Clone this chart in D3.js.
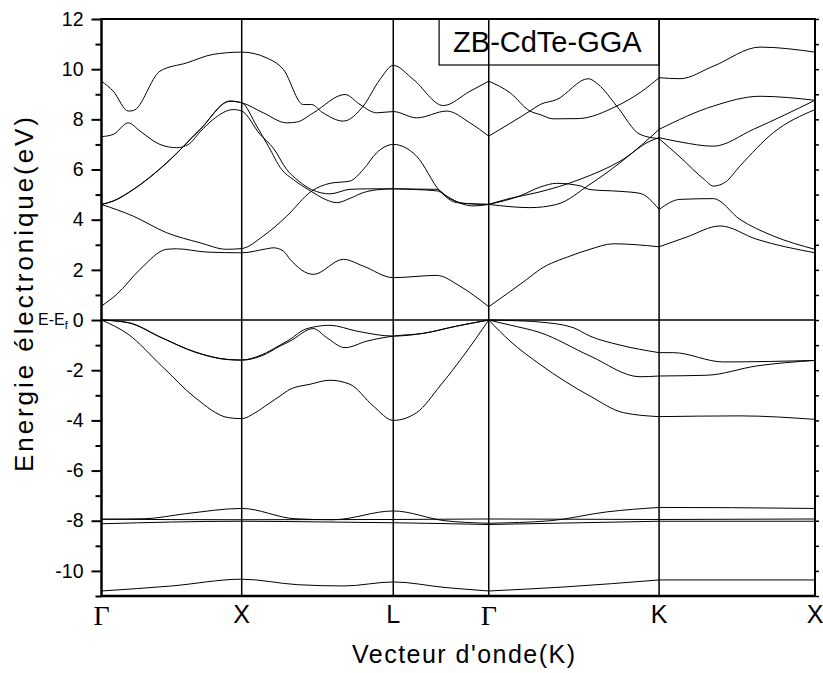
<!DOCTYPE html>
<html>
<head>
<meta charset="utf-8">
<script src="https://cdn.jsdelivr.net/npm/d3@7"></script>
<style>
  body { margin: 0; background: #fff; }
  text { font-family: Arial, "Liberation Sans", sans-serif; fill: #000; }
</style>
</head>
<body>
<div id="container"></div>
<script>
/* CONSTANTS AND GLOBALS */
const margin = { top: 19, right: 8, bottom: 77, left: 101.5 };
const width = 823 - margin.left - margin.right;
const height = 673 - margin.top - margin.bottom;

/* DATA */
// high symmetry points along the k path (in units of the Γ-X length)
const kLabels = ["Γ", "X", "L", "Γ", "K", "X"];
const kPoints = [0, 1, 2.081, 2.762, 3.977, 5.089];
const yMajor = [-10, -8, -6, -4, -2, 0, 2, 4, 6, 8, 10, 12];
const yMinor = [-11, -9, -7, -5, -3, -1, 1, 3, 5, 7, 9, 11];

// bands, [k, E - Ef (eV)]
const bandS = [[0,-10.8],[0.5,-10.6],[1,-10.33],[1.4,-10.55],[1.73,-10.6],[2.081,-10.44],[2.45,-10.66],[2.762,-10.8],[3.3,-10.64],[3.977,-10.36],[5.089,-10.36]];

const bandD1 = [[0,-8.12],[1,-8.02],[1.6,-8.05],[2.081,-8.08],[2.762,-8.15],[3.977,-8.02],[5.089,-8.02]];
const bandD2 = [[0,-7.94],[1,-7.96],[2.081,-7.95],[2.762,-7.93],[3.977,-7.95],[5.089,-7.93]];
const bandD3 = [[0,-7.94],[0.31,-7.92],[0.6,-7.72],[1,-7.51],[1.38,-7.92],[1.65,-7.96],[2.081,-7.61],[2.45,-8.0],[2.762,-8.1],[3.2,-8.0],[3.6,-7.65],[3.977,-7.47],[4.5,-7.48],[5.089,-7.51]];

const bandV1 = [[0,0],[0.191,-0.10],[0.429,-0.70],[0.667,-1.27],[0.904,-1.57],[1,-1.59],[1.145,-1.38],[1.273,-1.0],[1.345,-0.77],[1.439,-0.40],[1.511,-0.28],[1.630,-0.21],[1.820,-0.44],[2.081,-0.64],[2.295,-0.53],[2.534,-0.24],[2.762,0],[2.914,-0.02],[3.128,-0.08],[3.363,-0.30],[3.484,-0.64],[3.70,-1.0],[3.977,-1.30],[4.078,-1.30],[4.435,-1.67],[5.089,-1.61]];
const bandV2 = [[0,0],[0.191,-0.11],[0.429,-0.71],[0.667,-1.28],[0.904,-1.58],[1,-1.60],[1.145,-1.42],[1.273,-1.04],[1.345,-0.84],[1.511,-0.34],[1.606,-0.70],[1.737,-1.10],[1.893,-0.84],[2.081,-0.64],[2.295,-0.53],[2.534,-0.24],[2.762,0],[2.914,-0.2],[3.128,-0.50],[3.484,-1.43],[3.841,-2.26],[3.977,-2.23],[4.317,-2.20],[4.673,-1.83],[5.089,-1.61]];
const bandV3 = [[0,0],[0.191,-0.57],[0.429,-1.83],[0.667,-3.09],[0.904,-3.89],[1,-3.93],[1.095,-3.7],[1.188,-3.35],[1.273,-3.03],[1.345,-2.76],[1.487,-2.56],[1.630,-2.40],[1.772,-2.56],[1.939,-3.43],[2.081,-4.0],[2.248,-3.69],[2.414,-2.63],[2.581,-1.43],[2.762,0],[2.914,-0.84],[3.128,-1.77],[3.484,-3.03],[3.722,-3.69],[3.977,-3.85],[4.554,-3.82],[5.089,-3.96]];

const bandC1 = [[0,0.56],[0.108,1.02],[0.275,2.02],[0.465,2.82],[0.536,2.84],[0.750,2.71],[1,2.68],[1.178,2.84],[1.226,2.88],[1.297,2.75],[1.345,2.42],[1.511,1.82],[1.725,2.42],[1.867,2.15],[2.081,1.69],[2.391,1.78],[2.557,1.35],[2.762,0.53],[3.033,1.62],[3.128,2.02],[3.342,2.55],[3.484,2.82],[3.651,3.04],[3.977,2.92],[4.17,3.3],[4.412,3.75],[4.673,3.22],[5.089,2.68]];
const bandC2 = [[0,4.61],[0.227,4.14],[0.465,3.48],[0.703,3.08],[0.893,2.82],[1,2.85],[1.154,3.35],[1.321,4.14],[1.499,5.14],[1.630,5.45],[1.772,5.54],[1.867,6.0],[1.963,6.67],[2.081,7.0],[2.248,6.53],[2.414,5.14],[2.534,4.68],[2.762,4.61],[2.985,4.95],[3.128,5.3],[3.247,5.45],[3.413,5.35],[3.484,5.2],[3.698,5.13],[3.841,5.05],[3.977,4.41],[4.126,4.81],[4.364,4.84],[4.554,4.01],[4.792,3.35],[5.089,2.82]];
const bandC3 = [[0,4.61],[0.084,4.75],[0.227,5.21],[0.465,6.27],[0.703,7.6],[0.917,8.73],[1,8.66],[1.107,7.73],[1.19,6.93],[1.285,6.0],[1.368,5.6],[1.499,5.12],[1.60,4.8],[1.678,4.68],[1.772,4.85],[1.867,5.08],[1.963,5.19],[2.081,5.23],[2.248,5.22],[2.391,5.21],[2.462,4.94],[2.581,4.65],[2.762,4.61],[2.914,4.85],[3.106,5.08],[3.413,5.61],[3.698,6.33],[3.912,7.13],[3.977,7.27],[4.126,7.1],[4.364,6.93],[4.649,7.6],[5.089,8.76]];
const bandC4 = [[0,4.61],[0.084,4.74],[0.227,5.2],[0.465,6.26],[0.703,7.59],[0.917,8.72],[1,8.66],[1.154,8.26],[1.321,7.86],[1.392,7.89],[1.511,8.26],[1.737,8.99],[1.844,8.59],[1.963,8.26],[2.081,8.31],[2.248,8.06],[2.462,8.33],[2.628,7.86],[2.762,7.33],[2.914,7.84],[3.056,8.33],[3.128,8.59],[3.247,8.79],[3.472,9.62],[3.543,9.39],[3.675,8.53],[3.841,7.40],[3.977,7.23],[4.126,6.5],[4.30,5.6],[4.364,5.34],[4.45,5.5],[4.554,6.14],[4.792,7.47],[5.089,8.39]];
const bandC5 = [[0,7.31],[0.084,7.4],[0.191,7.86],[0.275,7.53],[0.417,7.0],[0.536,6.87],[0.62,7.0],[0.703,7.5],[0.797,8.0],[0.940,8.39],[1,8.33],[1.131,7.4],[1.226,6.85],[1.321,6.0],[1.404,5.55],[1.499,5.2],[1.630,5.03],[1.772,5.21],[1.915,5.23],[2.081,5.23],[2.248,5.2],[2.391,5.15],[2.50,4.8],[2.65,4.55],[2.762,4.61],[2.914,4.52],[3.056,4.48],[3.247,4.61],[3.484,5.41],[3.698,6.27],[3.912,7.27],[3.977,7.6],[4.364,8.53],[4.697,8.92],[5.089,8.76]];
const bandC6 = [[0,9.52],[0.084,9.12],[0.191,8.33],[0.227,8.35],[0.417,9.92],[0.608,10.25],[0.797,10.59],[1,10.68],[1.178,10.45],[1.297,9.99],[1.439,8.59],[1.499,8.59],[1.570,8.30],[1.725,7.93],[1.867,8.53],[1.986,9.59],[2.081,10.15],[2.224,9.59],[2.438,8.55],[2.628,9.12],[2.762,9.52],[2.914,9.06],[3.056,8.33],[3.128,8.19],[3.223,8.02],[3.40,8.03],[3.675,8.53],[3.85,9.1],[3.977,9.66],[4.126,9.62],[4.364,10.12],[4.697,10.88],[5.089,10.68]];

const bands = [bandS, bandD1, bandD2, bandD3, bandV1, bandV2, bandV3, bandC1, bandC2, bandC3, bandC4, bandC5, bandC6];

/* SCALES */
const xScale = d3.scaleLinear()
  .domain([kPoints[0], kPoints[kPoints.length - 1]])
  .range([0, width]);

const yScale = d3.scaleLinear()
  .domain([-11, 12])
  .range([height, 0]);

/* HTML ELEMENTS */
const svg = d3.select("#container")
  .append("svg")
  .attr("width", width + margin.left + margin.right)
  .attr("height", height + margin.top + margin.bottom);

const g = svg.append("g")
  .attr("transform", `translate(${margin.left},${margin.top})`);

// bands are cut at Γ and K where the branches meet with a kink
const cuts = [kPoints[0], kPoints[3], kPoints[4], kPoints[5]];
function pieces(pts) {
  const out = [];
  for (let i = 0; i < cuts.length - 1; i++) {
    out.push(pts.filter(p => p[0] >= cuts[i] - 1e-9 && p[0] <= cuts[i + 1] + 1e-9));
  }
  return out;
}

const line = d3.line()
  .x(d => xScale(d[0]))
  .y(d => yScale(d[1]))
  .curve(d3.curveMonotoneX);

g.selectAll("path.band")
  .data(bands.flatMap(pieces))
  .join("path")
  .attr("class", "band")
  .attr("d", line)
  .attr("fill", "none")
  .attr("stroke", "#000")
  .attr("stroke-width", 1);

// Fermi level
g.append("line")
  .attr("x1", 0).attr("x2", width)
  .attr("y1", yScale(0)).attr("y2", yScale(0))
  .attr("stroke", "#000").attr("stroke-width", 1.5);

// vertical lines at the symmetry points
g.selectAll("line.kline")
  .data(kPoints.slice(1, -1))
  .join("line")
  .attr("class", "kline")
  .attr("x1", d => xScale(d)).attr("x2", d => xScale(d))
  .attr("y1", 0).attr("y2", height)
  .attr("stroke", "#000").attr("stroke-width", 1.5);

// y axis, major and minor ticks (plain hyphen for negatives)
const yAxis = g.append("g")
  .call(d3.axisLeft(yScale).tickValues(yMajor).tickSize(10).tickPadding(8).tickFormat(d => String(d)))
  .call(a => a.select(".domain").remove());
yAxis.selectAll("line").attr("stroke-width", 2);
yAxis.selectAll("text").style("font-size", "19.5px");

g.append("g")
  .call(d3.axisLeft(yScale).tickValues(yMinor).tickSize(6).tickFormat(""))
  .call(a => a.select(".domain").remove())
  .selectAll("line").attr("stroke-width", 2);

// right side ticks
g.append("g")
  .attr("transform", `translate(${width},0)`)
  .call(d3.axisRight(yScale).tickValues(d3.merge([yMajor, yMinor])).tickSize(4).tickFormat(""))
  .call(a => a.select(".domain").remove())
  .selectAll("line").attr("stroke-width", 1.5);

// frame
g.append("line").attr("x1", 0).attr("x2", 0).attr("y1", -1).attr("y2", height + 1).attr("stroke", "#000").attr("stroke-width", 2.5);
g.append("line").attr("x1", width).attr("x2", width).attr("y1", -1).attr("y2", height + 1).attr("stroke", "#000").attr("stroke-width", 2);
g.append("line").attr("x1", 0).attr("x2", width).attr("y1", 0).attr("y2", 0).attr("stroke", "#000").attr("stroke-width", 2);
g.append("line").attr("x1", 0).attr("x2", width).attr("y1", height).attr("y2", height).attr("stroke", "#000").attr("stroke-width", 2.5);

// k labels under the axis
g.selectAll("text.klabel")
  .data(kLabels)
  .join("text")
  .attr("class", "klabel")
  .attr("x", (d, i) => xScale(kPoints[i]))
  .attr("y", (d, i) => d === "Γ" ? height + 29 : height + 27)
  .attr("text-anchor", "middle")
  .style("font-family", d => d === "Γ" ? "'Liberation Serif', 'Times New Roman', serif" : null)
  .style("font-size", d => d === "Γ" ? "28px" : "25px")
  .text(d => d);

// axis titles
g.append("text")
  .attr("x", 352 - margin.left)
  .attr("y", height + 67)
  .attr("textLength", 223)
  .attr("lengthAdjust", "spacing")
  .style("font-size", "25px")
  .text("Vecteur d'onde(K)");

g.append("text")
  .attr("transform", `translate(${33 - margin.left},${472 - margin.top}) rotate(-90)`)
  .attr("textLength", 355)
  .attr("lengthAdjust", "spacing")
  .style("font-size", "26px")
  .text("Energie électronique(eV)");

// E-Ef next to the zero label
const ef = g.append("text")
  .attr("x", 38 - margin.left)
  .attr("y", yScale(0) + 4.5)
  .style("font-size", "16px")
  .text("E-E");
ef.append("tspan")
  .attr("dy", 4)
  .style("font-size", "11px")
  .text("f");

// label box
const boxX = xScale(kPoints[4]) - 220;
g.append("rect")
  .attr("x", boxX).attr("y", 0)
  .attr("width", 220).attr("height", 46)
  .attr("fill", "none").attr("stroke", "#000").attr("stroke-width", 1.2);
g.append("text")
  .attr("x", boxX + 14)
  .attr("y", 33)
  .style("font-size", "29px")
  .text("ZB-CdTe-GGA");
</script>
</body>
</html>
